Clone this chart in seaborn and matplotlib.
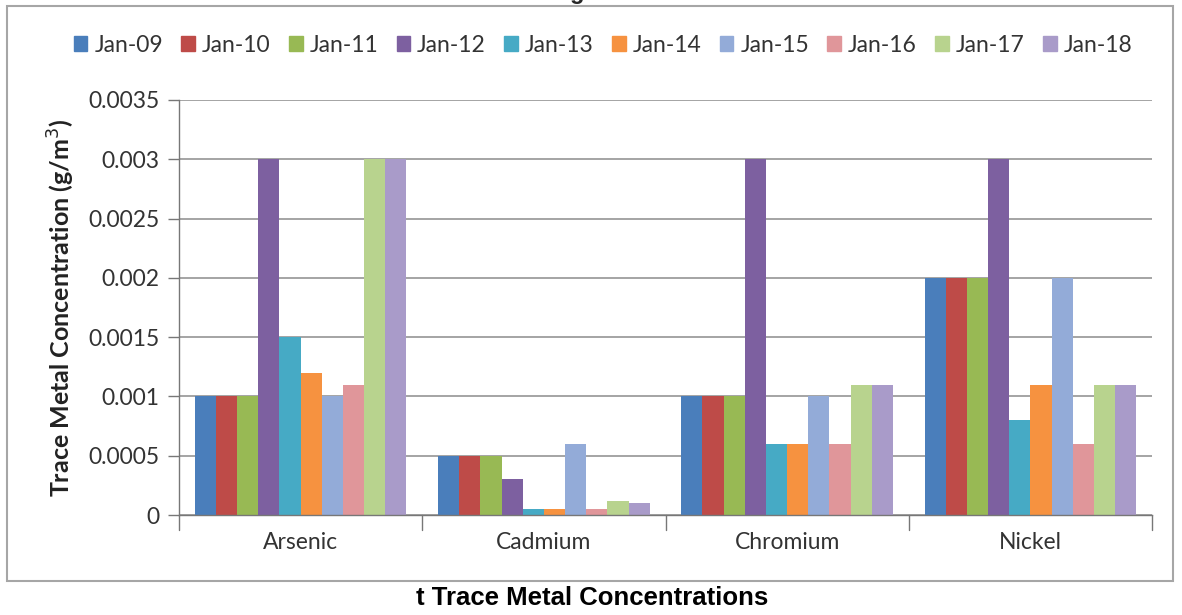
import matplotlib
matplotlib.use("Agg")
import matplotlib.pyplot as plt
from matplotlib.patches import Rectangle
import numpy as np
import pandas as pd
import seaborn as sns

metals = ["Arsenic", "Cadmium", "Chromium", "Nickel"]
years = ["Jan-09", "Jan-10", "Jan-11", "Jan-12", "Jan-13",
         "Jan-14", "Jan-15", "Jan-16", "Jan-17", "Jan-18"]

arsenic = [0.001, 0.001, 0.001, 0.003, 0.0015, 0.0012, 0.001, 0.0011, 0.003, 0.003]
cadmium = [0.0005, 0.0005, 0.0005, 0.0003, 0.00005, 0.00005, 0.0006, 0.00005, 0.00012, 0.0001]
chromium = [0.001, 0.001, 0.001, 0.003, 0.0006, 0.0006, 0.001, 0.0006, 0.0011, 0.0011]
nickel = [0.002, 0.002, 0.002, 0.003, 0.0008, 0.0011, 0.002, 0.0006, 0.0011, 0.0011]

y_ticks = [0, 0.0005, 0.001, 0.0015, 0.002, 0.0025, 0.003, 0.0035]
y_tick_labels = ["0", "0.0005", "0.001", "0.0015", "0.002", "0.0025", "0.003", "0.0035"]

colors = ["#4A7EBB", "#BE4B48", "#98B954", "#7D60A0", "#46AAC5",
          "#F69240", "#93ABD8", "#E0969A", "#B8D38E", "#A99BC9"]

rows = []
for metal, vals in zip(metals, [arsenic, cadmium, chromium, nickel]):
    for yr, v in zip(years, vals):
        rows.append({"metal": metal, "year": yr, "value": v})
df = pd.DataFrame(rows)

sns.set_theme(style="white")
plt.rcParams["font.family"] = ["Lato", "DejaVu Sans"]

fig = plt.figure(figsize=(11.82, 6.15), dpi=100)
ax = fig.add_axes([179 / 1182, 100 / 615, (1152 - 179) / 1182, (515 - 100) / 615])

sns.barplot(data=df, x="metal", y="value", hue="year", order=metals,
            hue_order=years, palette=colors, saturation=1, width=0.87,
            dodge=True, ax=ax, legend=False, linewidth=0)

ax.set_ylim(0, 0.0035)
ax.set_xlim(-0.5, 3.5)
ax.set_yticks(y_ticks)
ax.set_yticklabels(y_tick_labels, fontsize=16.5, color="#333333")
ax.yaxis.grid(True, color="#8C8C8C", linewidth=1.1)
ax.set_axisbelow(True)

ax.set_xticks([0, 1, 2, 3])
ax.set_xticklabels(metals, fontsize=16.5, color="#333333")
ax.tick_params(axis="x", length=0, pad=12)
ax.tick_params(axis="y", length=8, width=1, color="#777777", left=True, pad=6)
# category separator ticks below the x axis
for xb in [-0.5, 0.5, 1.5, 2.5, 3.5]:
    ax.plot([xb, xb], [0, -0.00013], color="#777777", lw=1, clip_on=False)

for side in ["top", "right"]:
    ax.spines[side].set_visible(False)
for side in ["left", "bottom"]:
    ax.spines[side].set_color("#777777")
    ax.spines[side].set_linewidth(1)

ax.set_xlabel("")
ax.set_ylabel("Trace Metal Concentration (g/m$^3$)", fontsize=18,
              fontweight="bold", color="#222222", labelpad=8)

handles = [Rectangle((0, 0), 1, 1, color=c) for c in colors]
fig.legend(handles, years, loc="center", bbox_to_anchor=(603 / 1182, 1 - 45 / 615),
           ncol=10, frameon=False, fontsize=16.5, handlelength=0.6,
           handleheight=0.6, handletextpad=0.3, columnspacing=0.8,
           labelcolor="#333333")

# chart frame
fig.patches.append(Rectangle((7 / 1182, 1 - 581 / 615), (1173 - 7) / 1182, (581 - 6) / 615,
                             transform=fig.transFigure, fill=False,
                             edgecolor="#A6A6A6", linewidth=1.5))

fig.text(577 / 1182, 1 + 1 / 615, "g", ha="center", va="baseline",
         fontsize=17, fontweight="bold", family="Liberation Sans")
fig.text(592 / 1182, 1 - 598 / 615, "t Trace Metal Concentrations",
         ha="center", va="center", fontsize=18.5, fontweight="bold",
         family="Liberation Sans", color="black")

fig.savefig("out.png", dpi=100)
